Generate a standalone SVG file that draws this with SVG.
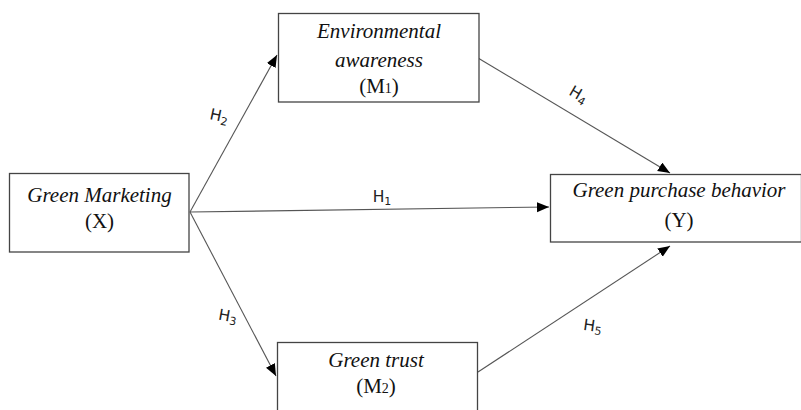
<svg xmlns="http://www.w3.org/2000/svg" width="801" height="410" viewBox="0 0 801 410">
<style>
.box{fill:#fff;stroke:#444;stroke-width:1.3}
.t{font-family:"Liberation Serif","Times New Roman",serif;font-size:21px;fill:#111;text-anchor:middle}
.i{font-style:italic}
.sub{font-size:14px}
.lab{font-family:"DejaVu Sans","Verdana",sans-serif;font-size:15.5px;fill:#222;text-anchor:middle}
.lsub{font-size:11px}
.c{stroke:#555;stroke-width:1.1;fill:none;marker-end:url(#ah)}
</style>
<defs>
<marker id="ah" markerUnits="userSpaceOnUse" markerWidth="13" markerHeight="11" refX="12" refY="5" orient="auto" viewBox="0 0 13 11">
<path d="M0,0 L12,5 L0,10 z" fill="#000"/>
</marker>
</defs>
<rect width="801" height="410" fill="#fff"/>
<g id="connectors">
<line class="c" x1="190" y1="212" x2="277" y2="55"/>
<line class="c" x1="190" y1="212" x2="549" y2="207"/>
<line class="c" x1="190" y1="212" x2="276" y2="376"/>
<line class="c" x1="478" y1="58" x2="670" y2="173"/>
<line class="c" x1="478" y1="372" x2="670" y2="246"/>
<text class="lab" transform="translate(218,121) rotate(12)">H<tspan class="lsub" dy="3">2</tspan></text>
<text class="lab" transform="translate(382,202)">H<tspan class="lsub" dy="3">1</tspan></text>
<text class="lab" transform="translate(227,321) rotate(10)">H<tspan class="lsub" dy="3">3</tspan></text>
<text class="lab" transform="translate(576,99) rotate(30)">H<tspan class="lsub" dy="3">4</tspan></text>
<text class="lab" transform="translate(592,331) rotate(8)">H<tspan class="lsub" dy="3">5</tspan></text>
</g>
<g id="green-marketing">
<rect class="box" x="9.5" y="173.5" width="179.5" height="78.5"/>
<text class="t i" x="99.5" y="202">Green Marketing</text>
<text class="t" x="99.5" y="228">(X)</text>
</g>
<g id="environmental-awareness">
<rect class="box" x="278.5" y="13.5" width="200.5" height="88.5"/>
<text class="t i" x="379" y="38">Environmental</text>
<text class="t i" x="379" y="67">awareness</text>
<text class="t" x="379" y="93">(M<tspan class="sub">1</tspan>)</text>
</g>
<g id="green-purchase-behavior">
<rect class="box" x="550.5" y="174.5" width="251" height="67.5"/>
<text class="t i" x="679" y="197">Green purchase behavior</text>
<text class="t" x="679" y="227">(Y)</text>
</g>
<g id="green-trust">
<rect class="box" x="277.5" y="342.5" width="200" height="80"/>
<text class="t i" x="376" y="367">Green trust</text>
<text class="t" x="376" y="393">(M<tspan class="sub">2</tspan>)</text>
</g>
</svg>
